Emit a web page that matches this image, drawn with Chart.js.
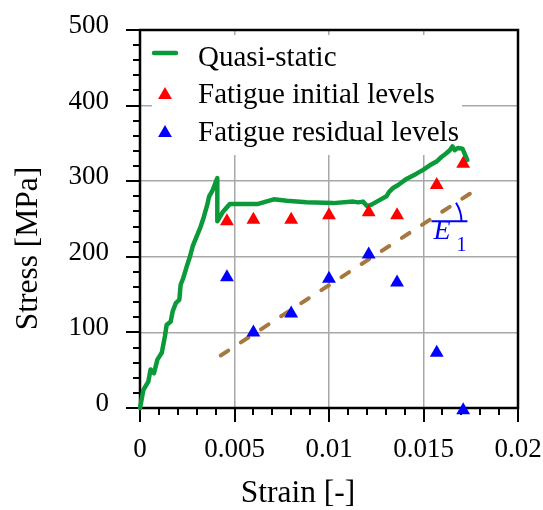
<!DOCTYPE html>
<html><head><meta charset="utf-8">
<script src="https://cdn.jsdelivr.net/npm/chart.js@4.4.1/dist/chart.umd.min.js"></script>
<style>html,body{margin:0;padding:0;background:#fff;}canvas{display:block;}</style>
</head><body>
<canvas id="c" width="543" height="510" style="width:543px;height:510px"></canvas>
<script>
// ---- data ----
const qsStrain = [0, 0.00018, 0.00044, 0.00056, 0.00074, 0.00092, 0.00115, 0.00132, 0.00141, 0.00162, 0.00173, 0.0019, 0.00208, 0.00215, 0.00229, 0.00247, 0.00264, 0.00279, 0.003, 0.00321, 0.00338, 0.00356, 0.00366, 0.00384, 0.00398, 0.00409, 0.00409, 0.0044, 0.00476, 0.00625, 0.00708, 0.00776, 0.00881, 0.01022, 0.01128, 0.01154, 0.0118, 0.01202, 0.01225, 0.0126, 0.01304, 0.01318, 0.01339, 0.01366, 0.0141, 0.01463, 0.01498, 0.01533, 0.01569, 0.01595, 0.01621, 0.01639, 0.01653, 0.01665, 0.01683, 0.01706, 0.01715, 0.01732];
const qsStress = [0, 24, 35, 51, 46, 64, 73, 95, 110, 114, 128, 139, 143, 163, 172, 187, 200, 214, 227, 240, 253, 269, 280, 288, 297, 304, 247, 260, 270, 270, 276, 274, 272, 271, 273, 272, 273, 267, 269, 274, 280, 286, 291, 295, 303, 310, 315, 321, 326, 332, 337, 341, 346, 341, 344, 343, 338, 328];
const fatStrain = [0.0046, 0.006, 0.008, 0.01, 0.0121, 0.0136, 0.0157, 0.0171];
const initStress = [247, 249, 249, 255, 259, 255, 295, 323];
const residStress = [173, 100, 125, 171, 203, 166, 73, -3];
const trendStrain = [0.00427, 0.01754];
const trendStress = [69.5, 284.8];
const xTickLabels = ['0', '0.005', '0.01', '0.015', '0.02'];
const yTickLabels = ['0', '100', '200', '300', '400', '500'];
const legendLabels = ['Quasi-static', 'Fatigue initial levels', 'Fatigue residual levels'];
const xTitle = 'Strain [-]';
const yTitle = 'Stress [MPa]';
const e1Stress = 247;

const GREEN = '#0b9a3a', RED = '#ff0000', BLUE = '#0000ff', BROWN = '#a67840';
const SERIF = '"Liberation Serif", "Times New Roman", serif';

const pts = (xs, ys) => xs.map((v, i) => ({x: v, y: ys[i]}));

function strainAt(stress) {
  const t = (stress - trendStress[0]) / (trendStress[1] - trendStress[0]);
  return trendStrain[0] + t * (trendStrain[1] - trendStrain[0]);
}

const decor = {
  id: 'decor',
  beforeDatasetsDraw(chart) {
    const {ctx, chartArea: a, scales: {x, y}} = chart;
    ctx.save();
    // legend background
    ctx.fillStyle = '#fff';
    ctx.fillRect(a.left + 12, a.top + 5, 310, 120);
    // frame
    ctx.strokeStyle = '#000';
    ctx.lineWidth = 2.5;
    ctx.strokeRect(a.left, a.top, a.right - a.left, a.bottom - a.top);
    // tick marks
    ctx.lineWidth = 2;
    for (let i = 0; i <= 20; i++) {
      const px = Math.round(x.getPixelForValue(i * 0.001));
      const len = i % 5 === 0 ? 14 : 7;
      ctx.beginPath(); ctx.moveTo(px, a.bottom); ctx.lineTo(px, a.bottom + len); ctx.stroke();
    }
    for (let i = 0; i <= 25; i++) {
      const py = Math.round(y.getPixelForValue(i * 20));
      const len = i % 5 === 0 ? 14 : 7;
      ctx.beginPath(); ctx.moveTo(a.left, py); ctx.lineTo(a.left - len, py); ctx.stroke();
    }
    ctx.restore();
  },
  afterDatasetsDraw(chart) {
    const {ctx, chartArea: a, scales: {x, y}} = chart;
    ctx.save();
    // legend
    const lx = a.left + 25, tx = a.left + 58;
    const rows = [a.top + 23, a.top + 65, a.top + 103];
    const bases = [a.top + 36, a.top + 73, a.top + 110.5];
    ctx.strokeStyle = GREEN; ctx.lineWidth = 4.5; ctx.lineCap = 'round';
    ctx.beginPath(); ctx.moveTo(lx - 11, rows[0]); ctx.lineTo(lx + 11, rows[0]); ctx.stroke();
    ctx.fillStyle = RED;
    Chart.helpers.drawPoint(ctx, {pointStyle: 'triangle', radius: 8, rotation: 0, borderWidth: 0}, lx, rows[1]);
    ctx.fillStyle = BLUE;
    Chart.helpers.drawPoint(ctx, {pointStyle: 'triangle', radius: 8, rotation: 0, borderWidth: 0}, lx, rows[2]);
    ctx.fillStyle = '#000';
    ctx.font = '29px ' + SERIF;
    ctx.textAlign = 'left'; ctx.textBaseline = 'alphabetic';
    legendLabels.forEach((t, i) => ctx.fillText(t, tx, bases[i]));

    // E1 annotation
    const cx = x.getPixelForValue(strainAt(e1Stress));
    const cy = y.getPixelForValue(e1Stress);
    const p0x = x.getPixelForValue(trendStrain[0]), p0y = y.getPixelForValue(trendStress[0]);
    const p1x = x.getPixelForValue(trendStrain[1]), p1y = y.getPixelForValue(trendStress[1]);
    const ang = Math.atan2(p1y - p0y, p1x - p0x);
    ctx.strokeStyle = BLUE; ctx.lineWidth = 2; ctx.lineCap = 'butt';
    ctx.beginPath(); ctx.moveTo(cx + 4, cy); ctx.lineTo(cx + 40, cy); ctx.stroke();
    ctx.beginPath(); ctx.arc(cx, cy, 34, ang, 0); ctx.stroke();
    ctx.fillStyle = BLUE;
    ctx.font = 'italic 28px ' + SERIF;
    ctx.fillText('E', cx + 6, cy + 18);
    ctx.font = '20px ' + SERIF;
    ctx.fillText('1', cx + 29, cy + 29.5);

    // axis titles
    ctx.fillStyle = '#000';
    ctx.font = '31.5px ' + SERIF;
    ctx.textAlign = 'center';
    ctx.fillText(xTitle, a.left + 158, 501.5);
    ctx.translate(37, a.top + 218.5);
    ctx.rotate(-Math.PI / 2);
    ctx.fillText(yTitle, 0, 0);
    ctx.restore();
  }
};

Chart.defaults.color = '#000';
new Chart(document.getElementById('c'), {
  type: 'scatter',
  data: {
    datasets: [
      {label: legendLabels[2], data: pts(fatStrain, residStress), order: 1, clip: false,
       pointStyle: 'triangle', pointRadius: 8, pointBackgroundColor: BLUE, pointBorderWidth: 0, showLine: false},
      {label: legendLabels[1], data: pts(fatStrain, initStress), order: 2, clip: false,
       pointStyle: 'triangle', pointRadius: 8, pointBackgroundColor: RED, pointBorderWidth: 0, showLine: false},
      {label: 'E1', data: pts(trendStrain, trendStress), order: 3, showLine: true, pointRadius: 0,
       borderColor: BROWN, borderWidth: 4, borderDash: [9, 15], borderCapStyle: 'round'},
      {label: legendLabels[0], data: pts(qsStrain, qsStress), order: 4, clip: false, showLine: true, pointRadius: 0,
       borderColor: GREEN, borderWidth: 4.5, borderJoinStyle: 'round', borderCapStyle: 'round', tension: 0}
    ]
  },
  options: {
    responsive: false,
    devicePixelRatio: 1,
    animation: false,
    layout: {padding: {top: 30, right: 25, left: 0, bottom: 0}},
    plugins: {legend: {display: false}, tooltip: {enabled: false}},
    scales: {
      x: {
        type: 'linear', min: 0, max: 0.02,
        ticks: {stepSize: 0.005, autoSkip: false, maxRotation: 0, padding: 26,
                font: {family: SERIF, size: 27}, color: '#000',
                callback: (v, i) => xTickLabels[i]},
        grid: {color: '#a8a8a8', lineWidth: 1.5, drawTicks: false},
        border: {display: false},
        afterFit(s) { s.height = 102; s.paddingLeft = 0; s.paddingRight = 0; }
      },
      y: {
        type: 'linear', min: 0, max: 500,
        ticks: {stepSize: 100, padding: 31, labelOffset: -4,
                font: {family: SERIF, size: 27}, color: '#000',
                callback: (v, i) => yTickLabels[i]},
        grid: {color: '#a8a8a8', lineWidth: 1.5, drawTicks: false},
        border: {display: false},
        afterFit(s) { s.width = 140; s.paddingTop = 0; s.paddingBottom = 0; }
      }
    }
  },
  plugins: [decor]
});
</script>
</body></html>
